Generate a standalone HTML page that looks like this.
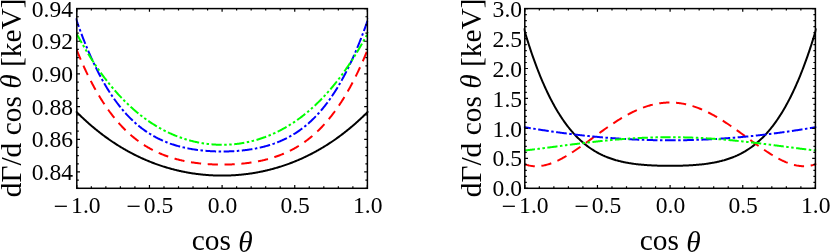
<!DOCTYPE html>
<html><head><meta charset="utf-8"><title>plot</title>
<style>
html,body{margin:0;padding:0;background:#fff;}
body{width:830px;height:252px;overflow:hidden;}
svg{display:block;will-change:transform;opacity:0.999;}
text{font-family:"Liberation Serif",serif;fill:#000;}
.t{font-size:23.6px;}
.a{font-size:29.4px;}
</style></head><body>
<svg width="830" height="252" viewBox="0 0 830 252">
<rect width="830" height="252" fill="#fff"/>

<clipPath id="c76"><rect x="75.60" y="8.60" width="293.00" height="179.70"/></clipPath>
<g clip-path="url(#c76)" fill="none" stroke-width="2">
<path d="M75.80 111.19 L76.53 111.93 L77.26 112.66 L77.99 113.39 L78.73 114.11 L79.46 114.82 L80.19 115.53 L80.92 116.24 L81.65 116.93 L82.38 117.63 L83.12 118.31 L83.85 119.00 L84.58 119.67 L85.31 120.35 L86.04 121.01 L86.77 121.67 L87.50 122.33 L88.24 122.98 L88.97 123.63 L89.70 124.27 L90.43 124.90 L91.16 125.53 L91.89 126.16 L92.62 126.78 L93.36 127.39 L94.09 128.00 L94.82 128.61 L95.55 129.21 L96.28 129.81 L97.01 130.40 L97.75 130.98 L98.48 131.56 L99.21 132.14 L99.94 132.71 L100.67 133.28 L101.40 133.84 L102.13 134.40 L102.87 134.95 L103.60 135.50 L104.33 136.04 L105.06 136.58 L105.79 137.12 L106.52 137.65 L107.25 138.17 L107.99 138.69 L108.72 139.21 L109.45 139.72 L110.18 140.23 L110.91 140.73 L111.64 141.23 L112.38 141.72 L113.11 142.21 L113.84 142.70 L114.57 143.18 L115.30 143.66 L116.03 144.13 L116.76 144.60 L117.50 145.06 L118.23 145.52 L118.96 145.98 L119.69 146.43 L120.42 146.88 L121.15 147.32 L121.88 147.76 L122.62 148.19 L123.35 148.63 L124.08 149.05 L124.81 149.48 L125.54 149.89 L126.27 150.31 L127.00 150.72 L127.74 151.13 L128.47 151.53 L129.20 151.93 L129.93 152.33 L130.66 152.72 L131.39 153.10 L132.13 153.49 L132.86 153.87 L133.59 154.24 L134.32 154.62 L135.05 154.98 L135.78 155.35 L136.51 155.71 L137.25 156.07 L137.98 156.42 L138.71 156.77 L139.44 157.12 L140.17 157.46 L140.90 157.80 L141.63 158.13 L142.37 158.47 L143.10 158.79 L143.83 159.12 L144.56 159.44 L145.29 159.76 L146.02 160.07 L146.76 160.38 L147.49 160.69 L148.22 160.99 L148.95 161.29 L149.68 161.59 L150.41 161.88 L151.14 162.17 L151.88 162.46 L152.61 162.74 L153.34 163.02 L154.07 163.29 L154.80 163.57 L155.53 163.84 L156.26 164.10 L157.00 164.36 L157.73 164.62 L158.46 164.88 L159.19 165.13 L159.92 165.38 L160.65 165.63 L161.39 165.87 L162.12 166.11 L162.85 166.35 L163.58 166.58 L164.31 166.81 L165.04 167.04 L165.77 167.26 L166.51 167.48 L167.24 167.70 L167.97 167.91 L168.70 168.12 L169.43 168.33 L170.16 168.54 L170.89 168.74 L171.63 168.94 L172.36 169.13 L173.09 169.32 L173.82 169.51 L174.55 169.70 L175.28 169.88 L176.02 170.06 L176.75 170.24 L177.48 170.42 L178.21 170.59 L178.94 170.75 L179.67 170.92 L180.40 171.08 L181.14 171.24 L181.87 171.40 L182.60 171.55 L183.33 171.70 L184.06 171.85 L184.79 171.99 L185.52 172.13 L186.26 172.27 L186.99 172.41 L187.72 172.54 L188.45 172.67 L189.18 172.80 L189.91 172.92 L190.65 173.04 L191.38 173.16 L192.11 173.28 L192.84 173.39 L193.57 173.50 L194.30 173.61 L195.03 173.71 L195.77 173.81 L196.50 173.91 L197.23 174.01 L197.96 174.10 L198.69 174.19 L199.42 174.28 L200.15 174.36 L200.89 174.44 L201.62 174.52 L202.35 174.60 L203.08 174.67 L203.81 174.74 L204.54 174.81 L205.28 174.87 L206.01 174.93 L206.74 174.99 L207.47 175.05 L208.20 175.10 L208.93 175.16 L209.66 175.20 L210.40 175.25 L211.13 175.29 L211.86 175.33 L212.59 175.37 L213.32 175.40 L214.05 175.43 L214.78 175.46 L215.52 175.49 L216.25 175.51 L216.98 175.53 L217.71 175.55 L218.44 175.57 L219.17 175.58 L219.91 175.59 L220.64 175.59 L221.37 175.60 L222.10 175.60 L222.83 175.60 L223.56 175.59 L224.29 175.59 L225.03 175.58 L225.76 175.57 L226.49 175.55 L227.22 175.53 L227.95 175.51 L228.68 175.49 L229.41 175.46 L230.15 175.43 L230.88 175.40 L231.61 175.37 L232.34 175.33 L233.07 175.29 L233.80 175.25 L234.54 175.20 L235.27 175.16 L236.00 175.10 L236.73 175.05 L237.46 174.99 L238.19 174.93 L238.92 174.87 L239.66 174.81 L240.39 174.74 L241.12 174.67 L241.85 174.60 L242.58 174.52 L243.31 174.44 L244.04 174.36 L244.78 174.28 L245.51 174.19 L246.24 174.10 L246.97 174.01 L247.70 173.91 L248.43 173.81 L249.17 173.71 L249.90 173.61 L250.63 173.50 L251.36 173.39 L252.09 173.28 L252.82 173.16 L253.55 173.04 L254.29 172.92 L255.02 172.80 L255.75 172.67 L256.48 172.54 L257.21 172.41 L257.94 172.27 L258.67 172.13 L259.41 171.99 L260.14 171.85 L260.87 171.70 L261.60 171.55 L262.33 171.40 L263.06 171.24 L263.80 171.08 L264.53 170.92 L265.26 170.75 L265.99 170.59 L266.72 170.42 L267.45 170.24 L268.18 170.06 L268.92 169.88 L269.65 169.70 L270.38 169.51 L271.11 169.32 L271.84 169.13 L272.57 168.94 L273.30 168.74 L274.04 168.54 L274.77 168.33 L275.50 168.12 L276.23 167.91 L276.96 167.70 L277.69 167.48 L278.43 167.26 L279.16 167.04 L279.89 166.81 L280.62 166.58 L281.35 166.35 L282.08 166.11 L282.81 165.87 L283.55 165.63 L284.28 165.38 L285.01 165.13 L285.74 164.88 L286.47 164.62 L287.20 164.36 L287.93 164.10 L288.67 163.84 L289.40 163.57 L290.13 163.29 L290.86 163.02 L291.59 162.74 L292.32 162.46 L293.06 162.17 L293.79 161.88 L294.52 161.59 L295.25 161.29 L295.98 160.99 L296.71 160.69 L297.44 160.38 L298.18 160.07 L298.91 159.76 L299.64 159.44 L300.37 159.12 L301.10 158.79 L301.83 158.47 L302.56 158.13 L303.30 157.80 L304.03 157.46 L304.76 157.12 L305.49 156.77 L306.22 156.42 L306.95 156.07 L307.69 155.71 L308.42 155.35 L309.15 154.98 L309.88 154.62 L310.61 154.24 L311.34 153.87 L312.07 153.49 L312.81 153.10 L313.54 152.72 L314.27 152.33 L315.00 151.93 L315.73 151.53 L316.46 151.13 L317.19 150.72 L317.93 150.31 L318.66 149.89 L319.39 149.48 L320.12 149.05 L320.85 148.63 L321.58 148.19 L322.32 147.76 L323.05 147.32 L323.78 146.88 L324.51 146.43 L325.24 145.98 L325.97 145.52 L326.70 145.06 L327.44 144.60 L328.17 144.13 L328.90 143.66 L329.63 143.18 L330.36 142.70 L331.09 142.21 L331.82 141.72 L332.56 141.23 L333.29 140.73 L334.02 140.23 L334.75 139.72 L335.48 139.21 L336.21 138.69 L336.95 138.17 L337.68 137.65 L338.41 137.12 L339.14 136.58 L339.87 136.04 L340.60 135.50 L341.33 134.95 L342.07 134.40 L342.80 133.84 L343.53 133.28 L344.26 132.71 L344.99 132.14 L345.72 131.56 L346.45 130.98 L347.19 130.40 L347.92 129.81 L348.65 129.21 L349.38 128.61 L350.11 128.00 L350.84 127.39 L351.58 126.78 L352.31 126.16 L353.04 125.53 L353.77 124.90 L354.50 124.27 L355.23 123.63 L355.96 122.98 L356.70 122.33 L357.43 121.67 L358.16 121.01 L358.89 120.35 L359.62 119.67 L360.35 119.00 L361.08 118.31 L361.82 117.63 L362.55 116.93 L363.28 116.24 L364.01 115.53 L364.74 114.82 L365.47 114.11 L366.21 113.39 L366.94 112.66 L367.67 111.93 L368.40 111.19" stroke="#000"/>
<path d="M75.80 47.71 L76.53 49.53 L77.26 51.34 L77.99 53.12 L78.73 54.89 L79.46 56.63 L80.19 58.35 L80.92 60.04 L81.65 61.72 L82.38 63.37 L83.12 65.01 L83.85 66.62 L84.58 68.22 L85.31 69.79 L86.04 71.34 L86.77 72.87 L87.50 74.39 L88.24 75.88 L88.97 77.35 L89.70 78.81 L90.43 80.24 L91.16 81.66 L91.89 83.06 L92.62 84.44 L93.36 85.80 L94.09 87.15 L94.82 88.47 L95.55 89.78 L96.28 91.07 L97.01 92.34 L97.75 93.60 L98.48 94.84 L99.21 96.06 L99.94 97.27 L100.67 98.46 L101.40 99.63 L102.13 100.78 L102.87 101.92 L103.60 103.05 L104.33 104.16 L105.06 105.25 L105.79 106.33 L106.52 107.39 L107.25 108.44 L107.99 109.47 L108.72 110.49 L109.45 111.49 L110.18 112.48 L110.91 113.46 L111.64 114.42 L112.38 115.36 L113.11 116.30 L113.84 117.22 L114.57 118.12 L115.30 119.01 L116.03 119.89 L116.76 120.76 L117.50 121.61 L118.23 122.45 L118.96 123.28 L119.69 124.09 L120.42 124.90 L121.15 125.69 L121.88 126.47 L122.62 127.23 L123.35 127.99 L124.08 128.73 L124.81 129.46 L125.54 130.18 L126.27 130.89 L127.00 131.59 L127.74 132.27 L128.47 132.95 L129.20 133.62 L129.93 134.27 L130.66 134.91 L131.39 135.55 L132.13 136.17 L132.86 136.78 L133.59 137.39 L134.32 137.98 L135.05 138.57 L135.78 139.14 L136.51 139.70 L137.25 140.26 L137.98 140.81 L138.71 141.34 L139.44 141.87 L140.17 142.39 L140.90 142.90 L141.63 143.40 L142.37 143.89 L143.10 144.38 L143.83 144.85 L144.56 145.32 L145.29 145.78 L146.02 146.23 L146.76 146.68 L147.49 147.11 L148.22 147.54 L148.95 147.96 L149.68 148.37 L150.41 148.78 L151.14 149.18 L151.88 149.57 L152.61 149.95 L153.34 150.33 L154.07 150.70 L154.80 151.06 L155.53 151.42 L156.26 151.77 L157.00 152.11 L157.73 152.45 L158.46 152.78 L159.19 153.10 L159.92 153.42 L160.65 153.73 L161.39 154.04 L162.12 154.34 L162.85 154.63 L163.58 154.92 L164.31 155.20 L165.04 155.48 L165.77 155.75 L166.51 156.01 L167.24 156.27 L167.97 156.53 L168.70 156.78 L169.43 157.02 L170.16 157.26 L170.89 157.50 L171.63 157.72 L172.36 157.95 L173.09 158.17 L173.82 158.38 L174.55 158.59 L175.28 158.80 L176.02 159.00 L176.75 159.20 L177.48 159.39 L178.21 159.58 L178.94 159.76 L179.67 159.94 L180.40 160.11 L181.14 160.28 L181.87 160.45 L182.60 160.61 L183.33 160.77 L184.06 160.93 L184.79 161.08 L185.52 161.23 L186.26 161.37 L186.99 161.51 L187.72 161.65 L188.45 161.78 L189.18 161.91 L189.91 162.03 L190.65 162.16 L191.38 162.27 L192.11 162.39 L192.84 162.50 L193.57 162.61 L194.30 162.72 L195.03 162.82 L195.77 162.92 L196.50 163.01 L197.23 163.11 L197.96 163.20 L198.69 163.28 L199.42 163.37 L200.15 163.45 L200.89 163.52 L201.62 163.60 L202.35 163.67 L203.08 163.74 L203.81 163.81 L204.54 163.87 L205.28 163.93 L206.01 163.99 L206.74 164.04 L207.47 164.10 L208.20 164.15 L208.93 164.19 L209.66 164.24 L210.40 164.28 L211.13 164.32 L211.86 164.35 L212.59 164.39 L213.32 164.42 L214.05 164.45 L214.78 164.48 L215.52 164.50 L216.25 164.52 L216.98 164.54 L217.71 164.56 L218.44 164.57 L219.17 164.58 L219.91 164.59 L220.64 164.60 L221.37 164.60 L222.10 164.60 L222.83 164.60 L223.56 164.60 L224.29 164.59 L225.03 164.58 L225.76 164.57 L226.49 164.56 L227.22 164.54 L227.95 164.52 L228.68 164.50 L229.41 164.48 L230.15 164.45 L230.88 164.42 L231.61 164.39 L232.34 164.35 L233.07 164.32 L233.80 164.28 L234.54 164.24 L235.27 164.19 L236.00 164.15 L236.73 164.10 L237.46 164.04 L238.19 163.99 L238.92 163.93 L239.66 163.87 L240.39 163.81 L241.12 163.74 L241.85 163.67 L242.58 163.60 L243.31 163.52 L244.04 163.45 L244.78 163.37 L245.51 163.28 L246.24 163.20 L246.97 163.11 L247.70 163.01 L248.43 162.92 L249.17 162.82 L249.90 162.72 L250.63 162.61 L251.36 162.50 L252.09 162.39 L252.82 162.27 L253.55 162.16 L254.29 162.03 L255.02 161.91 L255.75 161.78 L256.48 161.65 L257.21 161.51 L257.94 161.37 L258.67 161.23 L259.41 161.08 L260.14 160.93 L260.87 160.77 L261.60 160.61 L262.33 160.45 L263.06 160.28 L263.80 160.11 L264.53 159.94 L265.26 159.76 L265.99 159.58 L266.72 159.39 L267.45 159.20 L268.18 159.00 L268.92 158.80 L269.65 158.59 L270.38 158.38 L271.11 158.17 L271.84 157.95 L272.57 157.72 L273.30 157.50 L274.04 157.26 L274.77 157.02 L275.50 156.78 L276.23 156.53 L276.96 156.27 L277.69 156.01 L278.43 155.75 L279.16 155.48 L279.89 155.20 L280.62 154.92 L281.35 154.63 L282.08 154.34 L282.81 154.04 L283.55 153.73 L284.28 153.42 L285.01 153.10 L285.74 152.78 L286.47 152.45 L287.20 152.11 L287.93 151.77 L288.67 151.42 L289.40 151.06 L290.13 150.70 L290.86 150.33 L291.59 149.95 L292.32 149.57 L293.06 149.18 L293.79 148.78 L294.52 148.37 L295.25 147.96 L295.98 147.54 L296.71 147.11 L297.44 146.68 L298.18 146.23 L298.91 145.78 L299.64 145.32 L300.37 144.85 L301.10 144.38 L301.83 143.89 L302.56 143.40 L303.30 142.90 L304.03 142.39 L304.76 141.87 L305.49 141.34 L306.22 140.81 L306.95 140.26 L307.69 139.70 L308.42 139.14 L309.15 138.57 L309.88 137.98 L310.61 137.39 L311.34 136.78 L312.07 136.17 L312.81 135.55 L313.54 134.91 L314.27 134.27 L315.00 133.62 L315.73 132.95 L316.46 132.27 L317.19 131.59 L317.93 130.89 L318.66 130.18 L319.39 129.46 L320.12 128.73 L320.85 127.99 L321.58 127.23 L322.32 126.47 L323.05 125.69 L323.78 124.90 L324.51 124.09 L325.24 123.28 L325.97 122.45 L326.70 121.61 L327.44 120.76 L328.17 119.89 L328.90 119.01 L329.63 118.12 L330.36 117.22 L331.09 116.30 L331.82 115.36 L332.56 114.42 L333.29 113.46 L334.02 112.48 L334.75 111.49 L335.48 110.49 L336.21 109.47 L336.95 108.44 L337.68 107.39 L338.41 106.33 L339.14 105.25 L339.87 104.16 L340.60 103.05 L341.33 101.92 L342.07 100.78 L342.80 99.63 L343.53 98.46 L344.26 97.27 L344.99 96.06 L345.72 94.84 L346.45 93.60 L347.19 92.34 L347.92 91.07 L348.65 89.78 L349.38 88.47 L350.11 87.15 L350.84 85.80 L351.58 84.44 L352.31 83.06 L353.04 81.66 L353.77 80.24 L354.50 78.81 L355.23 77.35 L355.96 75.88 L356.70 74.39 L357.43 72.87 L358.16 71.34 L358.89 69.79 L359.62 68.22 L360.35 66.62 L361.08 65.01 L361.82 63.37 L362.55 61.72 L363.28 60.04 L364.01 58.35 L364.74 56.63 L365.47 54.89 L366.21 53.12 L366.94 51.34 L367.67 49.53 L368.40 47.71" stroke="#f00" stroke-dasharray="10.22 6.62" stroke-dashoffset="14.15"/>
<path d="M75.80 18.20 L76.53 20.33 L77.26 22.43 L77.99 24.50 L78.73 26.54 L79.46 28.56 L80.19 30.56 L80.92 32.53 L81.65 34.47 L82.38 36.39 L83.12 38.29 L83.85 40.16 L84.58 42.00 L85.31 43.83 L86.04 45.63 L86.77 47.40 L87.50 49.15 L88.24 50.88 L88.97 52.59 L89.70 54.27 L90.43 55.93 L91.16 57.57 L91.89 59.18 L92.62 60.78 L93.36 62.35 L94.09 63.90 L94.82 65.43 L95.55 66.94 L96.28 68.43 L97.01 69.90 L97.75 71.35 L98.48 72.78 L99.21 74.18 L99.94 75.57 L100.67 76.94 L101.40 78.29 L102.13 79.62 L102.87 80.93 L103.60 82.22 L104.33 83.50 L105.06 84.75 L105.79 85.99 L106.52 87.21 L107.25 88.41 L107.99 89.60 L108.72 90.77 L109.45 91.92 L110.18 93.05 L110.91 94.17 L111.64 95.27 L112.38 96.35 L113.11 97.42 L113.84 98.47 L114.57 99.50 L115.30 100.52 L116.03 101.53 L116.76 102.52 L117.50 103.49 L118.23 104.45 L118.96 105.39 L119.69 106.32 L120.42 107.24 L121.15 108.14 L121.88 109.02 L122.62 109.89 L123.35 110.75 L124.08 111.60 L124.81 112.43 L125.54 113.25 L126.27 114.05 L127.00 114.84 L127.74 115.62 L128.47 116.39 L129.20 117.14 L129.93 117.88 L130.66 118.61 L131.39 119.33 L132.13 120.03 L132.86 120.73 L133.59 121.41 L134.32 122.08 L135.05 122.74 L135.78 123.38 L136.51 124.02 L137.25 124.65 L137.98 125.26 L138.71 125.87 L139.44 126.46 L140.17 127.04 L140.90 127.62 L141.63 128.18 L142.37 128.73 L143.10 129.28 L143.83 129.81 L144.56 130.33 L145.29 130.85 L146.02 131.35 L146.76 131.85 L147.49 132.34 L148.22 132.81 L148.95 133.28 L149.68 133.74 L150.41 134.20 L151.14 134.64 L151.88 135.08 L152.61 135.50 L153.34 135.92 L154.07 136.33 L154.80 136.74 L155.53 137.13 L156.26 137.52 L157.00 137.90 L157.73 138.27 L158.46 138.64 L159.19 139.00 L159.92 139.35 L160.65 139.69 L161.39 140.03 L162.12 140.36 L162.85 140.68 L163.58 141.00 L164.31 141.31 L165.04 141.62 L165.77 141.92 L166.51 142.21 L167.24 142.49 L167.97 142.77 L168.70 143.05 L169.43 143.31 L170.16 143.58 L170.89 143.83 L171.63 144.08 L172.36 144.33 L173.09 144.57 L173.82 144.80 L174.55 145.03 L175.28 145.26 L176.02 145.48 L176.75 145.69 L177.48 145.90 L178.21 146.10 L178.94 146.30 L179.67 146.50 L180.40 146.69 L181.14 146.87 L181.87 147.05 L182.60 147.23 L183.33 147.40 L184.06 147.57 L184.79 147.73 L185.52 147.89 L186.26 148.05 L186.99 148.20 L187.72 148.34 L188.45 148.49 L189.18 148.62 L189.91 148.76 L190.65 148.89 L191.38 149.02 L192.11 149.14 L192.84 149.26 L193.57 149.38 L194.30 149.49 L195.03 149.60 L195.77 149.71 L196.50 149.81 L197.23 149.91 L197.96 150.01 L198.69 150.10 L199.42 150.19 L200.15 150.27 L200.89 150.36 L201.62 150.44 L202.35 150.51 L203.08 150.59 L203.81 150.66 L204.54 150.72 L205.28 150.79 L206.01 150.85 L206.74 150.91 L207.47 150.96 L208.20 151.02 L208.93 151.07 L209.66 151.11 L210.40 151.16 L211.13 151.20 L211.86 151.24 L212.59 151.28 L213.32 151.31 L214.05 151.34 L214.78 151.37 L215.52 151.39 L216.25 151.42 L216.98 151.44 L217.71 151.45 L218.44 151.47 L219.17 151.48 L219.91 151.49 L220.64 151.49 L221.37 151.50 L222.10 151.50 L222.83 151.50 L223.56 151.49 L224.29 151.49 L225.03 151.48 L225.76 151.47 L226.49 151.45 L227.22 151.44 L227.95 151.42 L228.68 151.39 L229.41 151.37 L230.15 151.34 L230.88 151.31 L231.61 151.28 L232.34 151.24 L233.07 151.20 L233.80 151.16 L234.54 151.11 L235.27 151.07 L236.00 151.02 L236.73 150.96 L237.46 150.91 L238.19 150.85 L238.92 150.79 L239.66 150.72 L240.39 150.66 L241.12 150.59 L241.85 150.51 L242.58 150.44 L243.31 150.36 L244.04 150.27 L244.78 150.19 L245.51 150.10 L246.24 150.01 L246.97 149.91 L247.70 149.81 L248.43 149.71 L249.17 149.60 L249.90 149.49 L250.63 149.38 L251.36 149.26 L252.09 149.14 L252.82 149.02 L253.55 148.89 L254.29 148.76 L255.02 148.62 L255.75 148.49 L256.48 148.34 L257.21 148.20 L257.94 148.05 L258.67 147.89 L259.41 147.73 L260.14 147.57 L260.87 147.40 L261.60 147.23 L262.33 147.05 L263.06 146.87 L263.80 146.69 L264.53 146.50 L265.26 146.30 L265.99 146.10 L266.72 145.90 L267.45 145.69 L268.18 145.48 L268.92 145.26 L269.65 145.03 L270.38 144.80 L271.11 144.57 L271.84 144.33 L272.57 144.08 L273.30 143.83 L274.04 143.58 L274.77 143.31 L275.50 143.05 L276.23 142.77 L276.96 142.49 L277.69 142.21 L278.43 141.92 L279.16 141.62 L279.89 141.31 L280.62 141.00 L281.35 140.68 L282.08 140.36 L282.81 140.03 L283.55 139.69 L284.28 139.35 L285.01 139.00 L285.74 138.64 L286.47 138.27 L287.20 137.90 L287.93 137.52 L288.67 137.13 L289.40 136.74 L290.13 136.33 L290.86 135.92 L291.59 135.50 L292.32 135.08 L293.06 134.64 L293.79 134.20 L294.52 133.74 L295.25 133.28 L295.98 132.81 L296.71 132.34 L297.44 131.85 L298.18 131.35 L298.91 130.85 L299.64 130.33 L300.37 129.81 L301.10 129.28 L301.83 128.73 L302.56 128.18 L303.30 127.62 L304.03 127.04 L304.76 126.46 L305.49 125.87 L306.22 125.26 L306.95 124.65 L307.69 124.02 L308.42 123.38 L309.15 122.74 L309.88 122.08 L310.61 121.41 L311.34 120.73 L312.07 120.03 L312.81 119.33 L313.54 118.61 L314.27 117.88 L315.00 117.14 L315.73 116.39 L316.46 115.62 L317.19 114.84 L317.93 114.05 L318.66 113.25 L319.39 112.43 L320.12 111.60 L320.85 110.75 L321.58 109.89 L322.32 109.02 L323.05 108.14 L323.78 107.24 L324.51 106.32 L325.24 105.39 L325.97 104.45 L326.70 103.49 L327.44 102.52 L328.17 101.53 L328.90 100.52 L329.63 99.50 L330.36 98.47 L331.09 97.42 L331.82 96.35 L332.56 95.27 L333.29 94.17 L334.02 93.05 L334.75 91.92 L335.48 90.77 L336.21 89.60 L336.95 88.41 L337.68 87.21 L338.41 85.99 L339.14 84.75 L339.87 83.50 L340.60 82.22 L341.33 80.93 L342.07 79.62 L342.80 78.29 L343.53 76.94 L344.26 75.57 L344.99 74.18 L345.72 72.78 L346.45 71.35 L347.19 69.90 L347.92 68.43 L348.65 66.94 L349.38 65.43 L350.11 63.90 L350.84 62.35 L351.58 60.78 L352.31 59.18 L353.04 57.57 L353.77 55.93 L354.50 54.27 L355.23 52.59 L355.96 50.88 L356.70 49.15 L357.43 47.40 L358.16 45.63 L358.89 43.83 L359.62 42.00 L360.35 40.16 L361.08 38.29 L361.82 36.39 L362.55 34.47 L363.28 32.53 L364.01 30.56 L364.74 28.56 L365.47 26.54 L366.21 24.50 L366.94 22.43 L367.67 20.33 L368.40 18.20" stroke="#00f" stroke-dasharray="10.7 2.5 2.5 2.5" stroke-dashoffset="1.58"/>
<path d="M75.80 32.13 L76.53 33.50 L77.26 34.86 L77.99 36.21 L78.73 37.55 L79.46 38.87 L80.19 40.19 L80.92 41.49 L81.65 42.78 L82.38 44.06 L83.12 45.33 L83.85 46.59 L84.58 47.83 L85.31 49.07 L86.04 50.29 L86.77 51.50 L87.50 52.71 L88.24 53.90 L88.97 55.08 L89.70 56.25 L90.43 57.41 L91.16 58.56 L91.89 59.70 L92.62 60.83 L93.36 61.95 L94.09 63.05 L94.82 64.15 L95.55 65.24 L96.28 66.32 L97.01 67.38 L97.75 68.44 L98.48 69.49 L99.21 70.53 L99.94 71.56 L100.67 72.58 L101.40 73.59 L102.13 74.59 L102.87 75.58 L103.60 76.56 L104.33 77.53 L105.06 78.49 L105.79 79.44 L106.52 80.39 L107.25 81.32 L107.99 82.25 L108.72 83.17 L109.45 84.07 L110.18 84.97 L110.91 85.86 L111.64 86.75 L112.38 87.62 L113.11 88.48 L113.84 89.34 L114.57 90.19 L115.30 91.02 L116.03 91.85 L116.76 92.68 L117.50 93.49 L118.23 94.30 L118.96 95.09 L119.69 95.88 L120.42 96.66 L121.15 97.44 L121.88 98.20 L122.62 98.96 L123.35 99.71 L124.08 100.45 L124.81 101.18 L125.54 101.91 L126.27 102.63 L127.00 103.34 L127.74 104.04 L128.47 104.74 L129.20 105.43 L129.93 106.11 L130.66 106.78 L131.39 107.45 L132.13 108.11 L132.86 108.76 L133.59 109.40 L134.32 110.04 L135.05 110.67 L135.78 111.29 L136.51 111.91 L137.25 112.52 L137.98 113.12 L138.71 113.72 L139.44 114.30 L140.17 114.89 L140.90 115.46 L141.63 116.03 L142.37 116.59 L143.10 117.15 L143.83 117.69 L144.56 118.24 L145.29 118.77 L146.02 119.30 L146.76 119.82 L147.49 120.34 L148.22 120.85 L148.95 121.35 L149.68 121.85 L150.41 122.34 L151.14 122.83 L151.88 123.31 L152.61 123.78 L153.34 124.24 L154.07 124.70 L154.80 125.16 L155.53 125.61 L156.26 126.05 L157.00 126.49 L157.73 126.92 L158.46 127.34 L159.19 127.76 L159.92 128.18 L160.65 128.58 L161.39 128.98 L162.12 129.38 L162.85 129.77 L163.58 130.16 L164.31 130.54 L165.04 130.91 L165.77 131.28 L166.51 131.64 L167.24 132.00 L167.97 132.35 L168.70 132.70 L169.43 133.04 L170.16 133.37 L170.89 133.70 L171.63 134.03 L172.36 134.35 L173.09 134.66 L173.82 134.97 L174.55 135.28 L175.28 135.58 L176.02 135.87 L176.75 136.16 L177.48 136.44 L178.21 136.72 L178.94 137.00 L179.67 137.26 L180.40 137.53 L181.14 137.79 L181.87 138.04 L182.60 138.29 L183.33 138.53 L184.06 138.77 L184.79 139.00 L185.52 139.23 L186.26 139.46 L186.99 139.68 L187.72 139.89 L188.45 140.10 L189.18 140.31 L189.91 140.51 L190.65 140.70 L191.38 140.89 L192.11 141.08 L192.84 141.26 L193.57 141.44 L194.30 141.61 L195.03 141.78 L195.77 141.94 L196.50 142.10 L197.23 142.25 L197.96 142.40 L198.69 142.54 L199.42 142.68 L200.15 142.82 L200.89 142.95 L201.62 143.08 L202.35 143.20 L203.08 143.31 L203.81 143.43 L204.54 143.53 L205.28 143.64 L206.01 143.74 L206.74 143.83 L207.47 143.92 L208.20 144.01 L208.93 144.09 L209.66 144.17 L210.40 144.24 L211.13 144.31 L211.86 144.37 L212.59 144.43 L213.32 144.48 L214.05 144.54 L214.78 144.58 L215.52 144.62 L216.25 144.66 L216.98 144.69 L217.71 144.72 L218.44 144.75 L219.17 144.76 L219.91 144.78 L220.64 144.79 L221.37 144.80 L222.10 144.80 L222.83 144.80 L223.56 144.79 L224.29 144.78 L225.03 144.76 L225.76 144.75 L226.49 144.72 L227.22 144.69 L227.95 144.66 L228.68 144.62 L229.41 144.58 L230.15 144.54 L230.88 144.48 L231.61 144.43 L232.34 144.37 L233.07 144.31 L233.80 144.24 L234.54 144.17 L235.27 144.09 L236.00 144.01 L236.73 143.92 L237.46 143.83 L238.19 143.74 L238.92 143.64 L239.66 143.53 L240.39 143.43 L241.12 143.31 L241.85 143.20 L242.58 143.08 L243.31 142.95 L244.04 142.82 L244.78 142.68 L245.51 142.54 L246.24 142.40 L246.97 142.25 L247.70 142.10 L248.43 141.94 L249.17 141.78 L249.90 141.61 L250.63 141.44 L251.36 141.26 L252.09 141.08 L252.82 140.89 L253.55 140.70 L254.29 140.51 L255.02 140.31 L255.75 140.10 L256.48 139.89 L257.21 139.68 L257.94 139.46 L258.67 139.23 L259.41 139.00 L260.14 138.77 L260.87 138.53 L261.60 138.29 L262.33 138.04 L263.06 137.79 L263.80 137.53 L264.53 137.26 L265.26 137.00 L265.99 136.72 L266.72 136.44 L267.45 136.16 L268.18 135.87 L268.92 135.58 L269.65 135.28 L270.38 134.97 L271.11 134.66 L271.84 134.35 L272.57 134.03 L273.30 133.70 L274.04 133.37 L274.77 133.04 L275.50 132.70 L276.23 132.35 L276.96 132.00 L277.69 131.64 L278.43 131.28 L279.16 130.91 L279.89 130.54 L280.62 130.16 L281.35 129.77 L282.08 129.38 L282.81 128.98 L283.55 128.58 L284.28 128.18 L285.01 127.76 L285.74 127.34 L286.47 126.92 L287.20 126.49 L287.93 126.05 L288.67 125.61 L289.40 125.16 L290.13 124.70 L290.86 124.24 L291.59 123.78 L292.32 123.31 L293.06 122.83 L293.79 122.34 L294.52 121.85 L295.25 121.35 L295.98 120.85 L296.71 120.34 L297.44 119.82 L298.18 119.30 L298.91 118.77 L299.64 118.24 L300.37 117.69 L301.10 117.15 L301.83 116.59 L302.56 116.03 L303.30 115.46 L304.03 114.89 L304.76 114.30 L305.49 113.72 L306.22 113.12 L306.95 112.52 L307.69 111.91 L308.42 111.29 L309.15 110.67 L309.88 110.04 L310.61 109.40 L311.34 108.76 L312.07 108.11 L312.81 107.45 L313.54 106.78 L314.27 106.11 L315.00 105.43 L315.73 104.74 L316.46 104.04 L317.19 103.34 L317.93 102.63 L318.66 101.91 L319.39 101.18 L320.12 100.45 L320.85 99.71 L321.58 98.96 L322.32 98.20 L323.05 97.44 L323.78 96.66 L324.51 95.88 L325.24 95.09 L325.97 94.30 L326.70 93.49 L327.44 92.68 L328.17 91.85 L328.90 91.02 L329.63 90.19 L330.36 89.34 L331.09 88.48 L331.82 87.62 L332.56 86.75 L333.29 85.86 L334.02 84.97 L334.75 84.07 L335.48 83.17 L336.21 82.25 L336.95 81.32 L337.68 80.39 L338.41 79.44 L339.14 78.49 L339.87 77.53 L340.60 76.56 L341.33 75.58 L342.07 74.59 L342.80 73.59 L343.53 72.58 L344.26 71.56 L344.99 70.53 L345.72 69.49 L346.45 68.44 L347.19 67.38 L347.92 66.32 L348.65 65.24 L349.38 64.15 L350.11 63.05 L350.84 61.95 L351.58 60.83 L352.31 59.70 L353.04 58.56 L353.77 57.41 L354.50 56.25 L355.23 55.08 L355.96 53.90 L356.70 52.71 L357.43 51.50 L358.16 50.29 L358.89 49.07 L359.62 47.83 L360.35 46.59 L361.08 45.33 L361.82 44.06 L362.55 42.78 L363.28 41.49 L364.01 40.19 L364.74 38.87 L365.47 37.55 L366.21 36.21 L366.94 34.86 L367.67 33.50 L368.40 32.13" stroke="#0f0" stroke-dasharray="10.22 2.5 2.5 2.5 2.5 2.5" stroke-dashoffset="20.60"/>
</g>
<path d="M76.80 188.30 v-2.00 M76.80 8.60 v2.00 M91.33 188.30 v-2.00 M91.33 8.60 v2.00 M105.86 188.30 v-2.00 M105.86 8.60 v2.00 M120.39 188.30 v-2.00 M120.39 8.60 v2.00 M134.92 188.30 v-2.00 M134.92 8.60 v2.00 M149.45 188.30 v-2.00 M149.45 8.60 v2.00 M163.98 188.30 v-2.00 M163.98 8.60 v2.00 M178.51 188.30 v-2.00 M178.51 8.60 v2.00 M193.04 188.30 v-2.00 M193.04 8.60 v2.00 M207.57 188.30 v-2.00 M207.57 8.60 v2.00 M222.10 188.30 v-2.00 M222.10 8.60 v2.00 M236.63 188.30 v-2.00 M236.63 8.60 v2.00 M251.16 188.30 v-2.00 M251.16 8.60 v2.00 M265.69 188.30 v-2.00 M265.69 8.60 v2.00 M280.22 188.30 v-2.00 M280.22 8.60 v2.00 M294.75 188.30 v-2.00 M294.75 8.60 v2.00 M309.28 188.30 v-2.00 M309.28 8.60 v2.00 M323.81 188.30 v-2.00 M323.81 8.60 v2.00 M338.34 188.30 v-2.00 M338.34 8.60 v2.00 M352.87 188.30 v-2.00 M352.87 8.60 v2.00 M367.40 188.30 v-2.00 M367.40 8.60 v2.00 M76.80 188.30 v-3.20 M76.80 8.60 v3.20 M149.45 188.30 v-3.20 M149.45 8.60 v3.20 M222.10 188.30 v-3.20 M222.10 8.60 v3.20 M294.75 188.30 v-3.20 M294.75 8.60 v3.20 M367.40 188.30 v-3.20 M367.40 8.60 v3.20 M76.80 188.30 h2.00 M367.40 188.30 h-2.00 M76.80 180.13 h2.00 M367.40 180.13 h-2.00 M76.80 171.96 h2.00 M367.40 171.96 h-2.00 M76.80 163.80 h2.00 M367.40 163.80 h-2.00 M76.80 155.63 h2.00 M367.40 155.63 h-2.00 M76.80 147.46 h2.00 M367.40 147.46 h-2.00 M76.80 139.29 h2.00 M367.40 139.29 h-2.00 M76.80 131.12 h2.00 M367.40 131.12 h-2.00 M76.80 122.95 h2.00 M367.40 122.95 h-2.00 M76.80 114.79 h2.00 M367.40 114.79 h-2.00 M76.80 106.62 h2.00 M367.40 106.62 h-2.00 M76.80 98.45 h2.00 M367.40 98.45 h-2.00 M76.80 90.28 h2.00 M367.40 90.28 h-2.00 M76.80 82.11 h2.00 M367.40 82.11 h-2.00 M76.80 73.95 h2.00 M367.40 73.95 h-2.00 M76.80 65.78 h2.00 M367.40 65.78 h-2.00 M76.80 57.61 h2.00 M367.40 57.61 h-2.00 M76.80 49.44 h2.00 M367.40 49.44 h-2.00 M76.80 41.27 h2.00 M367.40 41.27 h-2.00 M76.80 33.10 h2.00 M367.40 33.10 h-2.00 M76.80 24.94 h2.00 M367.40 24.94 h-2.00 M76.80 16.77 h2.00 M367.40 16.77 h-2.00 M76.80 8.60 h2.00 M367.40 8.60 h-2.00 M76.80 171.96 h3.20 M367.40 171.96 h-3.20 M76.80 139.29 h3.20 M367.40 139.29 h-3.20 M76.80 106.62 h3.20 M367.40 106.62 h-3.20 M76.80 73.95 h3.20 M367.40 73.95 h-3.20 M76.80 41.27 h3.20 M367.40 41.27 h-3.20 M76.80 8.60 h3.20 M367.40 8.60 h-3.20" stroke="#000" stroke-width="1.2" fill="none"/>
<rect x="76.80" y="8.60" width="290.60" height="179.70" fill="none" stroke="#000" stroke-width="1.5"/>
<text class="t" transform="translate(77.20 213.45) scale(1 1.015)" text-anchor="middle"><tspan font-size="25.96" dy="1.1" letter-spacing="2.7">−</tspan><tspan dy="-1.1">1.0</tspan></text>
<text class="t" transform="translate(149.85 213.45) scale(1 1.015)" text-anchor="middle"><tspan font-size="25.96" dy="1.1" letter-spacing="2.7">−</tspan><tspan dy="-1.1">0.5</tspan></text>
<text class="t" transform="translate(222.50 213.45) scale(1 1.015)" text-anchor="middle">0.0</text>
<text class="t" transform="translate(295.15 213.45) scale(1 1.015)" text-anchor="middle">0.5</text>
<text class="t" transform="translate(367.80 213.45) scale(1 1.015)" text-anchor="middle">1.0</text>
<text class="t" transform="translate(73.00 180.06) scale(1 1.015)" text-anchor="end">0.84</text>
<text class="t" transform="translate(73.00 147.39) scale(1 1.015)" text-anchor="end">0.86</text>
<text class="t" transform="translate(73.00 114.72) scale(1 1.015)" text-anchor="end">0.88</text>
<text class="t" transform="translate(73.00 82.05) scale(1 1.015)" text-anchor="end">0.90</text>
<text class="t" transform="translate(73.00 49.37) scale(1 1.015)" text-anchor="end">0.92</text>
<text class="t" transform="translate(73.00 16.70) scale(1 1.015)" text-anchor="end">0.94</text>
<text class="a" transform="translate(222.30 249.8) scale(1 1.020)" text-anchor="middle">cos <tspan font-style="italic" dy="2.1">θ</tspan></text>
<text class="a" transform="translate(21.30 97.85) rotate(-90) scale(1 1.020)" text-anchor="middle">dΓ/d cos <tspan font-style="italic">θ</tspan> [keV]</text>
<clipPath id="c524"><rect x="523.60" y="8.60" width="293.00" height="179.70"/></clipPath>
<g clip-path="url(#c524)" fill="none" stroke-width="2">
<path d="M523.80 28.35 L524.53 30.82 L525.26 33.26 L525.99 35.66 L526.73 38.03 L527.46 40.37 L528.19 42.67 L528.92 44.94 L529.65 47.18 L530.38 49.38 L531.12 51.56 L531.85 53.70 L532.58 55.81 L533.31 57.89 L534.04 59.94 L534.77 61.96 L535.50 63.95 L536.24 65.91 L536.97 67.84 L537.70 69.74 L538.43 71.61 L539.16 73.46 L539.89 75.28 L540.62 77.06 L541.36 78.83 L542.09 80.56 L542.82 82.27 L543.55 83.95 L544.28 85.60 L545.01 87.23 L545.75 88.83 L546.48 90.41 L547.21 91.96 L547.94 93.49 L548.67 94.99 L549.40 96.47 L550.13 97.93 L550.87 99.36 L551.60 100.76 L552.33 102.15 L553.06 103.51 L553.79 104.84 L554.52 106.16 L555.25 107.45 L555.99 108.73 L556.72 109.98 L557.45 111.20 L558.18 112.41 L558.91 113.60 L559.64 114.76 L560.38 115.91 L561.11 117.04 L561.84 118.14 L562.57 119.23 L563.30 120.29 L564.03 121.34 L564.76 122.37 L565.50 123.38 L566.23 124.37 L566.96 125.35 L567.69 126.30 L568.42 127.24 L569.15 128.16 L569.88 129.06 L570.62 129.95 L571.35 130.82 L572.08 131.67 L572.81 132.51 L573.54 133.33 L574.27 134.13 L575.00 134.92 L575.74 135.70 L576.47 136.46 L577.20 137.20 L577.93 137.93 L578.66 138.64 L579.39 139.34 L580.13 140.03 L580.86 140.70 L581.59 141.36 L582.32 142.00 L583.05 142.63 L583.78 143.25 L584.51 143.86 L585.25 144.45 L585.98 145.03 L586.71 145.60 L587.44 146.15 L588.17 146.70 L588.90 147.23 L589.63 147.75 L590.37 148.26 L591.10 148.75 L591.83 149.24 L592.56 149.71 L593.29 150.18 L594.02 150.63 L594.76 151.08 L595.49 151.51 L596.22 151.93 L596.95 152.35 L597.68 152.75 L598.41 153.15 L599.14 153.53 L599.88 153.91 L600.61 154.28 L601.34 154.63 L602.07 154.98 L602.80 155.33 L603.53 155.66 L604.26 155.98 L605.00 156.30 L605.73 156.61 L606.46 156.91 L607.19 157.20 L607.92 157.49 L608.65 157.77 L609.39 158.04 L610.12 158.30 L610.85 158.56 L611.58 158.81 L612.31 159.05 L613.04 159.29 L613.77 159.52 L614.51 159.74 L615.24 159.96 L615.97 160.18 L616.70 160.38 L617.43 160.58 L618.16 160.78 L618.89 160.97 L619.63 161.15 L620.36 161.33 L621.09 161.50 L621.82 161.67 L622.55 161.84 L623.28 162.00 L624.02 162.15 L624.75 162.30 L625.48 162.44 L626.21 162.59 L626.94 162.72 L627.67 162.85 L628.40 162.98 L629.14 163.11 L629.87 163.23 L630.60 163.34 L631.33 163.45 L632.06 163.56 L632.79 163.67 L633.52 163.77 L634.26 163.87 L634.99 163.96 L635.72 164.06 L636.45 164.14 L637.18 164.23 L637.91 164.31 L638.65 164.39 L639.38 164.47 L640.11 164.54 L640.84 164.61 L641.57 164.68 L642.30 164.75 L643.03 164.81 L643.77 164.87 L644.50 164.93 L645.23 164.99 L645.96 165.04 L646.69 165.10 L647.42 165.15 L648.15 165.19 L648.89 165.24 L649.62 165.28 L650.35 165.32 L651.08 165.36 L651.81 165.40 L652.54 165.44 L653.28 165.47 L654.01 165.51 L654.74 165.54 L655.47 165.57 L656.20 165.59 L656.93 165.62 L657.66 165.64 L658.40 165.67 L659.13 165.69 L659.86 165.71 L660.59 165.73 L661.32 165.74 L662.05 165.76 L662.78 165.77 L663.52 165.78 L664.25 165.80 L664.98 165.81 L665.71 165.81 L666.44 165.82 L667.17 165.83 L667.91 165.83 L668.64 165.83 L669.37 165.84 L670.10 165.84 L670.83 165.84 L671.56 165.83 L672.29 165.83 L673.03 165.83 L673.76 165.82 L674.49 165.81 L675.22 165.81 L675.95 165.80 L676.68 165.78 L677.41 165.77 L678.15 165.76 L678.88 165.74 L679.61 165.73 L680.34 165.71 L681.07 165.69 L681.80 165.67 L682.54 165.64 L683.27 165.62 L684.00 165.59 L684.73 165.57 L685.46 165.54 L686.19 165.51 L686.92 165.47 L687.66 165.44 L688.39 165.40 L689.12 165.36 L689.85 165.32 L690.58 165.28 L691.31 165.24 L692.04 165.19 L692.78 165.15 L693.51 165.10 L694.24 165.04 L694.97 164.99 L695.70 164.93 L696.43 164.87 L697.17 164.81 L697.90 164.75 L698.63 164.68 L699.36 164.61 L700.09 164.54 L700.82 164.47 L701.55 164.39 L702.29 164.31 L703.02 164.23 L703.75 164.14 L704.48 164.06 L705.21 163.96 L705.94 163.87 L706.67 163.77 L707.41 163.67 L708.14 163.56 L708.87 163.45 L709.60 163.34 L710.33 163.23 L711.06 163.11 L711.80 162.98 L712.53 162.85 L713.26 162.72 L713.99 162.59 L714.72 162.44 L715.45 162.30 L716.18 162.15 L716.92 162.00 L717.65 161.84 L718.38 161.67 L719.11 161.50 L719.84 161.33 L720.57 161.15 L721.30 160.97 L722.04 160.78 L722.77 160.58 L723.50 160.38 L724.23 160.18 L724.96 159.96 L725.69 159.74 L726.43 159.52 L727.16 159.29 L727.89 159.05 L728.62 158.81 L729.35 158.56 L730.08 158.30 L730.81 158.04 L731.55 157.77 L732.28 157.49 L733.01 157.20 L733.74 156.91 L734.47 156.61 L735.20 156.30 L735.93 155.98 L736.67 155.66 L737.40 155.33 L738.13 154.98 L738.86 154.63 L739.59 154.28 L740.32 153.91 L741.06 153.53 L741.79 153.15 L742.52 152.75 L743.25 152.35 L743.98 151.93 L744.71 151.51 L745.44 151.08 L746.18 150.63 L746.91 150.18 L747.64 149.71 L748.37 149.24 L749.10 148.75 L749.83 148.26 L750.56 147.75 L751.30 147.23 L752.03 146.70 L752.76 146.15 L753.49 145.60 L754.22 145.03 L754.95 144.45 L755.69 143.86 L756.42 143.25 L757.15 142.63 L757.88 142.00 L758.61 141.36 L759.34 140.70 L760.07 140.03 L760.81 139.34 L761.54 138.64 L762.27 137.93 L763.00 137.20 L763.73 136.46 L764.46 135.70 L765.19 134.92 L765.93 134.13 L766.66 133.33 L767.39 132.51 L768.12 131.67 L768.85 130.82 L769.58 129.95 L770.32 129.06 L771.05 128.16 L771.78 127.24 L772.51 126.30 L773.24 125.35 L773.97 124.37 L774.70 123.38 L775.44 122.37 L776.17 121.34 L776.90 120.29 L777.63 119.23 L778.36 118.14 L779.09 117.04 L779.82 115.91 L780.56 114.76 L781.29 113.60 L782.02 112.41 L782.75 111.20 L783.48 109.98 L784.21 108.73 L784.95 107.45 L785.68 106.16 L786.41 104.84 L787.14 103.51 L787.87 102.15 L788.60 100.76 L789.33 99.36 L790.07 97.93 L790.80 96.47 L791.53 94.99 L792.26 93.49 L792.99 91.96 L793.72 90.41 L794.45 88.83 L795.19 87.23 L795.92 85.60 L796.65 83.95 L797.38 82.27 L798.11 80.56 L798.84 78.83 L799.58 77.06 L800.31 75.28 L801.04 73.46 L801.77 71.61 L802.50 69.74 L803.23 67.84 L803.96 65.91 L804.70 63.95 L805.43 61.96 L806.16 59.94 L806.89 57.89 L807.62 55.81 L808.35 53.70 L809.08 51.56 L809.82 49.38 L810.55 47.18 L811.28 44.94 L812.01 42.67 L812.74 40.37 L813.47 38.03 L814.21 35.66 L814.94 33.26 L815.67 30.82 L816.40 28.35" stroke="#000"/>
<path d="M523.80 163.90 L524.53 164.18 L525.26 164.44 L525.99 164.69 L526.73 164.91 L527.46 165.12 L528.19 165.30 L528.92 165.47 L529.65 165.62 L530.38 165.76 L531.12 165.87 L531.85 165.97 L532.58 166.06 L533.31 166.13 L534.04 166.18 L534.77 166.21 L535.50 166.23 L536.24 166.24 L536.97 166.22 L537.70 166.20 L538.43 166.16 L539.16 166.10 L539.89 166.03 L540.62 165.95 L541.36 165.85 L542.09 165.74 L542.82 165.62 L543.55 165.49 L544.28 165.34 L545.01 165.17 L545.75 165.00 L546.48 164.82 L547.21 164.62 L547.94 164.41 L548.67 164.19 L549.40 163.96 L550.13 163.72 L550.87 163.46 L551.60 163.20 L552.33 162.93 L553.06 162.64 L553.79 162.35 L554.52 162.05 L555.25 161.73 L555.99 161.41 L556.72 161.08 L557.45 160.74 L558.18 160.40 L558.91 160.04 L559.64 159.68 L560.38 159.31 L561.11 158.93 L561.84 158.54 L562.57 158.14 L563.30 157.74 L564.03 157.34 L564.76 156.92 L565.50 156.50 L566.23 156.07 L566.96 155.64 L567.69 155.20 L568.42 154.75 L569.15 154.30 L569.88 153.85 L570.62 153.39 L571.35 152.92 L572.08 152.45 L572.81 151.97 L573.54 151.49 L574.27 151.01 L575.00 150.52 L575.74 150.03 L576.47 149.53 L577.20 149.04 L577.93 148.53 L578.66 148.03 L579.39 147.52 L580.13 147.01 L580.86 146.49 L581.59 145.98 L582.32 145.46 L583.05 144.94 L583.78 144.41 L584.51 143.89 L585.25 143.36 L585.98 142.83 L586.71 142.30 L587.44 141.77 L588.17 141.24 L588.90 140.71 L589.63 140.17 L590.37 139.64 L591.10 139.10 L591.83 138.57 L592.56 138.03 L593.29 137.50 L594.02 136.96 L594.76 136.43 L595.49 135.89 L596.22 135.36 L596.95 134.83 L597.68 134.29 L598.41 133.76 L599.14 133.23 L599.88 132.70 L600.61 132.17 L601.34 131.65 L602.07 131.12 L602.80 130.60 L603.53 130.08 L604.26 129.56 L605.00 129.04 L605.73 128.53 L606.46 128.01 L607.19 127.50 L607.92 126.99 L608.65 126.49 L609.39 125.99 L610.12 125.49 L610.85 124.99 L611.58 124.50 L612.31 124.01 L613.04 123.52 L613.77 123.04 L614.51 122.56 L615.24 122.08 L615.97 121.61 L616.70 121.14 L617.43 120.68 L618.16 120.22 L618.89 119.76 L619.63 119.31 L620.36 118.86 L621.09 118.42 L621.82 117.98 L622.55 117.55 L623.28 117.12 L624.02 116.70 L624.75 116.28 L625.48 115.86 L626.21 115.45 L626.94 115.05 L627.67 114.65 L628.40 114.26 L629.14 113.87 L629.87 113.49 L630.60 113.11 L631.33 112.74 L632.06 112.37 L632.79 112.01 L633.52 111.66 L634.26 111.31 L634.99 110.97 L635.72 110.63 L636.45 110.30 L637.18 109.98 L637.91 109.66 L638.65 109.35 L639.38 109.04 L640.11 108.74 L640.84 108.45 L641.57 108.17 L642.30 107.89 L643.03 107.61 L643.77 107.35 L644.50 107.09 L645.23 106.84 L645.96 106.59 L646.69 106.35 L647.42 106.12 L648.15 105.89 L648.89 105.68 L649.62 105.46 L650.35 105.26 L651.08 105.06 L651.81 104.87 L652.54 104.69 L653.28 104.52 L654.01 104.35 L654.74 104.19 L655.47 104.03 L656.20 103.89 L656.93 103.75 L657.66 103.62 L658.40 103.49 L659.13 103.37 L659.86 103.26 L660.59 103.16 L661.32 103.07 L662.05 102.98 L662.78 102.90 L663.52 102.83 L664.25 102.77 L664.98 102.71 L665.71 102.66 L666.44 102.62 L667.17 102.58 L667.91 102.56 L668.64 102.54 L669.37 102.53 L670.10 102.52 L670.83 102.53 L671.56 102.54 L672.29 102.56 L673.03 102.58 L673.76 102.62 L674.49 102.66 L675.22 102.71 L675.95 102.77 L676.68 102.83 L677.41 102.90 L678.15 102.98 L678.88 103.07 L679.61 103.16 L680.34 103.26 L681.07 103.37 L681.80 103.49 L682.54 103.62 L683.27 103.75 L684.00 103.89 L684.73 104.03 L685.46 104.19 L686.19 104.35 L686.92 104.52 L687.66 104.69 L688.39 104.87 L689.12 105.06 L689.85 105.26 L690.58 105.46 L691.31 105.68 L692.04 105.89 L692.78 106.12 L693.51 106.35 L694.24 106.59 L694.97 106.84 L695.70 107.09 L696.43 107.35 L697.17 107.61 L697.90 107.89 L698.63 108.17 L699.36 108.45 L700.09 108.74 L700.82 109.04 L701.55 109.35 L702.29 109.66 L703.02 109.98 L703.75 110.30 L704.48 110.63 L705.21 110.97 L705.94 111.31 L706.67 111.66 L707.41 112.01 L708.14 112.37 L708.87 112.74 L709.60 113.11 L710.33 113.49 L711.06 113.87 L711.80 114.26 L712.53 114.65 L713.26 115.05 L713.99 115.45 L714.72 115.86 L715.45 116.28 L716.18 116.70 L716.92 117.12 L717.65 117.55 L718.38 117.98 L719.11 118.42 L719.84 118.86 L720.57 119.31 L721.30 119.76 L722.04 120.22 L722.77 120.68 L723.50 121.14 L724.23 121.61 L724.96 122.08 L725.69 122.56 L726.43 123.04 L727.16 123.52 L727.89 124.01 L728.62 124.50 L729.35 124.99 L730.08 125.49 L730.81 125.99 L731.55 126.49 L732.28 126.99 L733.01 127.50 L733.74 128.01 L734.47 128.53 L735.20 129.04 L735.93 129.56 L736.67 130.08 L737.40 130.60 L738.13 131.12 L738.86 131.65 L739.59 132.17 L740.32 132.70 L741.06 133.23 L741.79 133.76 L742.52 134.29 L743.25 134.83 L743.98 135.36 L744.71 135.89 L745.44 136.43 L746.18 136.96 L746.91 137.50 L747.64 138.03 L748.37 138.57 L749.10 139.10 L749.83 139.64 L750.56 140.17 L751.30 140.71 L752.03 141.24 L752.76 141.77 L753.49 142.30 L754.22 142.83 L754.95 143.36 L755.69 143.89 L756.42 144.41 L757.15 144.94 L757.88 145.46 L758.61 145.98 L759.34 146.49 L760.07 147.01 L760.81 147.52 L761.54 148.03 L762.27 148.53 L763.00 149.04 L763.73 149.53 L764.46 150.03 L765.19 150.52 L765.93 151.01 L766.66 151.49 L767.39 151.97 L768.12 152.45 L768.85 152.92 L769.58 153.39 L770.32 153.85 L771.05 154.30 L771.78 154.75 L772.51 155.20 L773.24 155.64 L773.97 156.07 L774.70 156.50 L775.44 156.92 L776.17 157.34 L776.90 157.74 L777.63 158.14 L778.36 158.54 L779.09 158.93 L779.82 159.31 L780.56 159.68 L781.29 160.04 L782.02 160.40 L782.75 160.74 L783.48 161.08 L784.21 161.41 L784.95 161.73 L785.68 162.05 L786.41 162.35 L787.14 162.64 L787.87 162.93 L788.60 163.20 L789.33 163.46 L790.07 163.72 L790.80 163.96 L791.53 164.19 L792.26 164.41 L792.99 164.62 L793.72 164.82 L794.45 165.00 L795.19 165.17 L795.92 165.34 L796.65 165.49 L797.38 165.62 L798.11 165.74 L798.84 165.85 L799.58 165.95 L800.31 166.03 L801.04 166.10 L801.77 166.16 L802.50 166.20 L803.23 166.22 L803.96 166.24 L804.70 166.23 L805.43 166.21 L806.16 166.18 L806.89 166.13 L807.62 166.06 L808.35 165.97 L809.08 165.87 L809.82 165.76 L810.55 165.62 L811.28 165.47 L812.01 165.30 L812.74 165.12 L813.47 164.91 L814.21 164.69 L814.94 164.44 L815.67 164.18 L816.40 163.90" stroke="#f00" stroke-dasharray="10.22 6.62" stroke-dashoffset="15.77"/>
<path d="M523.80 127.03 L524.53 127.16 L525.26 127.28 L525.99 127.41 L526.73 127.53 L527.46 127.65 L528.19 127.78 L528.92 127.90 L529.65 128.02 L530.38 128.14 L531.12 128.27 L531.85 128.39 L532.58 128.51 L533.31 128.63 L534.04 128.75 L534.77 128.87 L535.50 128.98 L536.24 129.10 L536.97 129.22 L537.70 129.33 L538.43 129.45 L539.16 129.57 L539.89 129.68 L540.62 129.80 L541.36 129.91 L542.09 130.02 L542.82 130.14 L543.55 130.25 L544.28 130.36 L545.01 130.47 L545.75 130.58 L546.48 130.69 L547.21 130.80 L547.94 130.91 L548.67 131.02 L549.40 131.13 L550.13 131.23 L550.87 131.34 L551.60 131.45 L552.33 131.55 L553.06 131.66 L553.79 131.76 L554.52 131.87 L555.25 131.97 L555.99 132.07 L556.72 132.18 L557.45 132.28 L558.18 132.38 L558.91 132.48 L559.64 132.58 L560.38 132.68 L561.11 132.78 L561.84 132.87 L562.57 132.97 L563.30 133.07 L564.03 133.17 L564.76 133.26 L565.50 133.36 L566.23 133.45 L566.96 133.55 L567.69 133.64 L568.42 133.73 L569.15 133.82 L569.88 133.92 L570.62 134.01 L571.35 134.10 L572.08 134.19 L572.81 134.28 L573.54 134.36 L574.27 134.45 L575.00 134.54 L575.74 134.63 L576.47 134.71 L577.20 134.80 L577.93 134.88 L578.66 134.97 L579.39 135.05 L580.13 135.13 L580.86 135.22 L581.59 135.30 L582.32 135.38 L583.05 135.46 L583.78 135.54 L584.51 135.62 L585.25 135.70 L585.98 135.78 L586.71 135.85 L587.44 135.93 L588.17 136.01 L588.90 136.08 L589.63 136.16 L590.37 136.23 L591.10 136.30 L591.83 136.38 L592.56 136.45 L593.29 136.52 L594.02 136.59 L594.76 136.66 L595.49 136.73 L596.22 136.80 L596.95 136.87 L597.68 136.94 L598.41 137.01 L599.14 137.07 L599.88 137.14 L600.61 137.20 L601.34 137.27 L602.07 137.33 L602.80 137.39 L603.53 137.46 L604.26 137.52 L605.00 137.58 L605.73 137.64 L606.46 137.70 L607.19 137.76 L607.92 137.82 L608.65 137.88 L609.39 137.93 L610.12 137.99 L610.85 138.05 L611.58 138.10 L612.31 138.16 L613.04 138.21 L613.77 138.26 L614.51 138.32 L615.24 138.37 L615.97 138.42 L616.70 138.47 L617.43 138.52 L618.16 138.57 L618.89 138.62 L619.63 138.67 L620.36 138.71 L621.09 138.76 L621.82 138.81 L622.55 138.85 L623.28 138.90 L624.02 138.94 L624.75 138.98 L625.48 139.03 L626.21 139.07 L626.94 139.11 L627.67 139.15 L628.40 139.19 L629.14 139.23 L629.87 139.27 L630.60 139.31 L631.33 139.34 L632.06 139.38 L632.79 139.41 L633.52 139.45 L634.26 139.48 L634.99 139.52 L635.72 139.55 L636.45 139.58 L637.18 139.61 L637.91 139.65 L638.65 139.68 L639.38 139.71 L640.11 139.73 L640.84 139.76 L641.57 139.79 L642.30 139.82 L643.03 139.84 L643.77 139.87 L644.50 139.89 L645.23 139.92 L645.96 139.94 L646.69 139.96 L647.42 139.98 L648.15 140.01 L648.89 140.03 L649.62 140.05 L650.35 140.07 L651.08 140.08 L651.81 140.10 L652.54 140.12 L653.28 140.14 L654.01 140.15 L654.74 140.17 L655.47 140.18 L656.20 140.19 L656.93 140.21 L657.66 140.22 L658.40 140.23 L659.13 140.24 L659.86 140.25 L660.59 140.26 L661.32 140.27 L662.05 140.28 L662.78 140.29 L663.52 140.29 L664.25 140.30 L664.98 140.30 L665.71 140.31 L666.44 140.31 L667.17 140.31 L667.91 140.32 L668.64 140.32 L669.37 140.32 L670.10 140.32 L670.83 140.32 L671.56 140.32 L672.29 140.32 L673.03 140.31 L673.76 140.31 L674.49 140.31 L675.22 140.30 L675.95 140.30 L676.68 140.29 L677.41 140.29 L678.15 140.28 L678.88 140.27 L679.61 140.26 L680.34 140.25 L681.07 140.24 L681.80 140.23 L682.54 140.22 L683.27 140.21 L684.00 140.19 L684.73 140.18 L685.46 140.17 L686.19 140.15 L686.92 140.14 L687.66 140.12 L688.39 140.10 L689.12 140.08 L689.85 140.07 L690.58 140.05 L691.31 140.03 L692.04 140.01 L692.78 139.98 L693.51 139.96 L694.24 139.94 L694.97 139.92 L695.70 139.89 L696.43 139.87 L697.17 139.84 L697.90 139.82 L698.63 139.79 L699.36 139.76 L700.09 139.73 L700.82 139.71 L701.55 139.68 L702.29 139.65 L703.02 139.61 L703.75 139.58 L704.48 139.55 L705.21 139.52 L705.94 139.48 L706.67 139.45 L707.41 139.41 L708.14 139.38 L708.87 139.34 L709.60 139.31 L710.33 139.27 L711.06 139.23 L711.80 139.19 L712.53 139.15 L713.26 139.11 L713.99 139.07 L714.72 139.03 L715.45 138.98 L716.18 138.94 L716.92 138.90 L717.65 138.85 L718.38 138.81 L719.11 138.76 L719.84 138.71 L720.57 138.67 L721.30 138.62 L722.04 138.57 L722.77 138.52 L723.50 138.47 L724.23 138.42 L724.96 138.37 L725.69 138.32 L726.43 138.26 L727.16 138.21 L727.89 138.16 L728.62 138.10 L729.35 138.05 L730.08 137.99 L730.81 137.93 L731.55 137.88 L732.28 137.82 L733.01 137.76 L733.74 137.70 L734.47 137.64 L735.20 137.58 L735.93 137.52 L736.67 137.46 L737.40 137.39 L738.13 137.33 L738.86 137.27 L739.59 137.20 L740.32 137.14 L741.06 137.07 L741.79 137.01 L742.52 136.94 L743.25 136.87 L743.98 136.80 L744.71 136.73 L745.44 136.66 L746.18 136.59 L746.91 136.52 L747.64 136.45 L748.37 136.38 L749.10 136.30 L749.83 136.23 L750.56 136.16 L751.30 136.08 L752.03 136.01 L752.76 135.93 L753.49 135.85 L754.22 135.78 L754.95 135.70 L755.69 135.62 L756.42 135.54 L757.15 135.46 L757.88 135.38 L758.61 135.30 L759.34 135.22 L760.07 135.13 L760.81 135.05 L761.54 134.97 L762.27 134.88 L763.00 134.80 L763.73 134.71 L764.46 134.63 L765.19 134.54 L765.93 134.45 L766.66 134.36 L767.39 134.28 L768.12 134.19 L768.85 134.10 L769.58 134.01 L770.32 133.92 L771.05 133.82 L771.78 133.73 L772.51 133.64 L773.24 133.55 L773.97 133.45 L774.70 133.36 L775.44 133.26 L776.17 133.17 L776.90 133.07 L777.63 132.97 L778.36 132.87 L779.09 132.78 L779.82 132.68 L780.56 132.58 L781.29 132.48 L782.02 132.38 L782.75 132.28 L783.48 132.18 L784.21 132.07 L784.95 131.97 L785.68 131.87 L786.41 131.76 L787.14 131.66 L787.87 131.55 L788.60 131.45 L789.33 131.34 L790.07 131.23 L790.80 131.13 L791.53 131.02 L792.26 130.91 L792.99 130.80 L793.72 130.69 L794.45 130.58 L795.19 130.47 L795.92 130.36 L796.65 130.25 L797.38 130.14 L798.11 130.02 L798.84 129.91 L799.58 129.80 L800.31 129.68 L801.04 129.57 L801.77 129.45 L802.50 129.33 L803.23 129.22 L803.96 129.10 L804.70 128.98 L805.43 128.87 L806.16 128.75 L806.89 128.63 L807.62 128.51 L808.35 128.39 L809.08 128.27 L809.82 128.14 L810.55 128.02 L811.28 127.90 L812.01 127.78 L812.74 127.65 L813.47 127.53 L814.21 127.41 L814.94 127.28 L815.67 127.16 L816.40 127.03" stroke="#00f" stroke-dasharray="10.7 2.5 2.5 2.5" stroke-dashoffset="3.64"/>
<path d="M523.80 150.62 L524.53 150.53 L525.26 150.45 L525.99 150.36 L526.73 150.28 L527.46 150.19 L528.19 150.10 L528.92 150.01 L529.65 149.92 L530.38 149.83 L531.12 149.75 L531.85 149.66 L532.58 149.56 L533.31 149.47 L534.04 149.38 L534.77 149.29 L535.50 149.20 L536.24 149.11 L536.97 149.01 L537.70 148.92 L538.43 148.83 L539.16 148.74 L539.89 148.64 L540.62 148.55 L541.36 148.45 L542.09 148.36 L542.82 148.26 L543.55 148.17 L544.28 148.08 L545.01 147.98 L545.75 147.88 L546.48 147.79 L547.21 147.69 L547.94 147.60 L548.67 147.50 L549.40 147.41 L550.13 147.31 L550.87 147.21 L551.60 147.12 L552.33 147.02 L553.06 146.93 L553.79 146.83 L554.52 146.73 L555.25 146.64 L555.99 146.54 L556.72 146.44 L557.45 146.35 L558.18 146.25 L558.91 146.16 L559.64 146.06 L560.38 145.96 L561.11 145.87 L561.84 145.77 L562.57 145.68 L563.30 145.58 L564.03 145.48 L564.76 145.39 L565.50 145.29 L566.23 145.20 L566.96 145.10 L567.69 145.01 L568.42 144.91 L569.15 144.82 L569.88 144.73 L570.62 144.63 L571.35 144.54 L572.08 144.45 L572.81 144.35 L573.54 144.26 L574.27 144.17 L575.00 144.07 L575.74 143.98 L576.47 143.89 L577.20 143.80 L577.93 143.71 L578.66 143.62 L579.39 143.53 L580.13 143.44 L580.86 143.35 L581.59 143.26 L582.32 143.17 L583.05 143.08 L583.78 142.99 L584.51 142.90 L585.25 142.82 L585.98 142.73 L586.71 142.64 L587.44 142.56 L588.17 142.47 L588.90 142.39 L589.63 142.30 L590.37 142.22 L591.10 142.13 L591.83 142.05 L592.56 141.97 L593.29 141.89 L594.02 141.80 L594.76 141.72 L595.49 141.64 L596.22 141.56 L596.95 141.48 L597.68 141.40 L598.41 141.32 L599.14 141.25 L599.88 141.17 L600.61 141.09 L601.34 141.02 L602.07 140.94 L602.80 140.87 L603.53 140.79 L604.26 140.72 L605.00 140.64 L605.73 140.57 L606.46 140.50 L607.19 140.43 L607.92 140.36 L608.65 140.29 L609.39 140.22 L610.12 140.15 L610.85 140.08 L611.58 140.01 L612.31 139.95 L613.04 139.88 L613.77 139.82 L614.51 139.75 L615.24 139.69 L615.97 139.62 L616.70 139.56 L617.43 139.50 L618.16 139.44 L618.89 139.38 L619.63 139.32 L620.36 139.26 L621.09 139.20 L621.82 139.14 L622.55 139.09 L623.28 139.03 L624.02 138.98 L624.75 138.92 L625.48 138.87 L626.21 138.82 L626.94 138.76 L627.67 138.71 L628.40 138.66 L629.14 138.61 L629.87 138.56 L630.60 138.52 L631.33 138.47 L632.06 138.42 L632.79 138.38 L633.52 138.33 L634.26 138.29 L634.99 138.25 L635.72 138.20 L636.45 138.16 L637.18 138.12 L637.91 138.08 L638.65 138.04 L639.38 138.00 L640.11 137.97 L640.84 137.93 L641.57 137.90 L642.30 137.86 L643.03 137.83 L643.77 137.79 L644.50 137.76 L645.23 137.73 L645.96 137.70 L646.69 137.67 L647.42 137.64 L648.15 137.62 L648.89 137.59 L649.62 137.56 L650.35 137.54 L651.08 137.51 L651.81 137.49 L652.54 137.47 L653.28 137.45 L654.01 137.43 L654.74 137.41 L655.47 137.39 L656.20 137.37 L656.93 137.35 L657.66 137.34 L658.40 137.32 L659.13 137.31 L659.86 137.30 L660.59 137.28 L661.32 137.27 L662.05 137.26 L662.78 137.25 L663.52 137.24 L664.25 137.23 L664.98 137.23 L665.71 137.22 L666.44 137.22 L667.17 137.21 L667.91 137.21 L668.64 137.21 L669.37 137.21 L670.10 137.21 L670.83 137.21 L671.56 137.21 L672.29 137.21 L673.03 137.21 L673.76 137.22 L674.49 137.22 L675.22 137.23 L675.95 137.23 L676.68 137.24 L677.41 137.25 L678.15 137.26 L678.88 137.27 L679.61 137.28 L680.34 137.30 L681.07 137.31 L681.80 137.32 L682.54 137.34 L683.27 137.35 L684.00 137.37 L684.73 137.39 L685.46 137.41 L686.19 137.43 L686.92 137.45 L687.66 137.47 L688.39 137.49 L689.12 137.51 L689.85 137.54 L690.58 137.56 L691.31 137.59 L692.04 137.62 L692.78 137.64 L693.51 137.67 L694.24 137.70 L694.97 137.73 L695.70 137.76 L696.43 137.79 L697.17 137.83 L697.90 137.86 L698.63 137.90 L699.36 137.93 L700.09 137.97 L700.82 138.00 L701.55 138.04 L702.29 138.08 L703.02 138.12 L703.75 138.16 L704.48 138.20 L705.21 138.25 L705.94 138.29 L706.67 138.33 L707.41 138.38 L708.14 138.42 L708.87 138.47 L709.60 138.52 L710.33 138.56 L711.06 138.61 L711.80 138.66 L712.53 138.71 L713.26 138.76 L713.99 138.82 L714.72 138.87 L715.45 138.92 L716.18 138.98 L716.92 139.03 L717.65 139.09 L718.38 139.14 L719.11 139.20 L719.84 139.26 L720.57 139.32 L721.30 139.38 L722.04 139.44 L722.77 139.50 L723.50 139.56 L724.23 139.62 L724.96 139.69 L725.69 139.75 L726.43 139.82 L727.16 139.88 L727.89 139.95 L728.62 140.01 L729.35 140.08 L730.08 140.15 L730.81 140.22 L731.55 140.29 L732.28 140.36 L733.01 140.43 L733.74 140.50 L734.47 140.57 L735.20 140.64 L735.93 140.72 L736.67 140.79 L737.40 140.87 L738.13 140.94 L738.86 141.02 L739.59 141.09 L740.32 141.17 L741.06 141.25 L741.79 141.32 L742.52 141.40 L743.25 141.48 L743.98 141.56 L744.71 141.64 L745.44 141.72 L746.18 141.80 L746.91 141.89 L747.64 141.97 L748.37 142.05 L749.10 142.13 L749.83 142.22 L750.56 142.30 L751.30 142.39 L752.03 142.47 L752.76 142.56 L753.49 142.64 L754.22 142.73 L754.95 142.82 L755.69 142.90 L756.42 142.99 L757.15 143.08 L757.88 143.17 L758.61 143.26 L759.34 143.35 L760.07 143.44 L760.81 143.53 L761.54 143.62 L762.27 143.71 L763.00 143.80 L763.73 143.89 L764.46 143.98 L765.19 144.07 L765.93 144.17 L766.66 144.26 L767.39 144.35 L768.12 144.45 L768.85 144.54 L769.58 144.63 L770.32 144.73 L771.05 144.82 L771.78 144.91 L772.51 145.01 L773.24 145.10 L773.97 145.20 L774.70 145.29 L775.44 145.39 L776.17 145.48 L776.90 145.58 L777.63 145.68 L778.36 145.77 L779.09 145.87 L779.82 145.96 L780.56 146.06 L781.29 146.16 L782.02 146.25 L782.75 146.35 L783.48 146.44 L784.21 146.54 L784.95 146.64 L785.68 146.73 L786.41 146.83 L787.14 146.93 L787.87 147.02 L788.60 147.12 L789.33 147.21 L790.07 147.31 L790.80 147.41 L791.53 147.50 L792.26 147.60 L792.99 147.69 L793.72 147.79 L794.45 147.88 L795.19 147.98 L795.92 148.08 L796.65 148.17 L797.38 148.26 L798.11 148.36 L798.84 148.45 L799.58 148.55 L800.31 148.64 L801.04 148.74 L801.77 148.83 L802.50 148.92 L803.23 149.01 L803.96 149.11 L804.70 149.20 L805.43 149.29 L806.16 149.38 L806.89 149.47 L807.62 149.56 L808.35 149.66 L809.08 149.75 L809.82 149.83 L810.55 149.92 L811.28 150.01 L812.01 150.10 L812.74 150.19 L813.47 150.28 L814.21 150.36 L814.94 150.45 L815.67 150.53 L816.40 150.62" stroke="#0f0" stroke-dasharray="10.22 2.5 2.5 2.5 2.5 2.5" stroke-dashoffset="21.71"/>
</g>
<path d="M524.80 188.30 v-2.00 M524.80 8.60 v2.00 M539.33 188.30 v-2.00 M539.33 8.60 v2.00 M553.86 188.30 v-2.00 M553.86 8.60 v2.00 M568.39 188.30 v-2.00 M568.39 8.60 v2.00 M582.92 188.30 v-2.00 M582.92 8.60 v2.00 M597.45 188.30 v-2.00 M597.45 8.60 v2.00 M611.98 188.30 v-2.00 M611.98 8.60 v2.00 M626.51 188.30 v-2.00 M626.51 8.60 v2.00 M641.04 188.30 v-2.00 M641.04 8.60 v2.00 M655.57 188.30 v-2.00 M655.57 8.60 v2.00 M670.10 188.30 v-2.00 M670.10 8.60 v2.00 M684.63 188.30 v-2.00 M684.63 8.60 v2.00 M699.16 188.30 v-2.00 M699.16 8.60 v2.00 M713.69 188.30 v-2.00 M713.69 8.60 v2.00 M728.22 188.30 v-2.00 M728.22 8.60 v2.00 M742.75 188.30 v-2.00 M742.75 8.60 v2.00 M757.28 188.30 v-2.00 M757.28 8.60 v2.00 M771.81 188.30 v-2.00 M771.81 8.60 v2.00 M786.34 188.30 v-2.00 M786.34 8.60 v2.00 M800.87 188.30 v-2.00 M800.87 8.60 v2.00 M815.40 188.30 v-2.00 M815.40 8.60 v2.00 M524.80 188.30 v-3.20 M524.80 8.60 v3.20 M597.45 188.30 v-3.20 M597.45 8.60 v3.20 M670.10 188.30 v-3.20 M670.10 8.60 v3.20 M742.75 188.30 v-3.20 M742.75 8.60 v3.20 M815.40 188.30 v-3.20 M815.40 8.60 v3.20 M524.80 188.30 h2.00 M815.40 188.30 h-2.00 M524.80 182.31 h2.00 M815.40 182.31 h-2.00 M524.80 176.32 h2.00 M815.40 176.32 h-2.00 M524.80 170.33 h2.00 M815.40 170.33 h-2.00 M524.80 164.34 h2.00 M815.40 164.34 h-2.00 M524.80 158.35 h2.00 M815.40 158.35 h-2.00 M524.80 152.36 h2.00 M815.40 152.36 h-2.00 M524.80 146.37 h2.00 M815.40 146.37 h-2.00 M524.80 140.38 h2.00 M815.40 140.38 h-2.00 M524.80 134.39 h2.00 M815.40 134.39 h-2.00 M524.80 128.40 h2.00 M815.40 128.40 h-2.00 M524.80 122.41 h2.00 M815.40 122.41 h-2.00 M524.80 116.42 h2.00 M815.40 116.42 h-2.00 M524.80 110.43 h2.00 M815.40 110.43 h-2.00 M524.80 104.44 h2.00 M815.40 104.44 h-2.00 M524.80 98.45 h2.00 M815.40 98.45 h-2.00 M524.80 92.46 h2.00 M815.40 92.46 h-2.00 M524.80 86.47 h2.00 M815.40 86.47 h-2.00 M524.80 80.48 h2.00 M815.40 80.48 h-2.00 M524.80 74.49 h2.00 M815.40 74.49 h-2.00 M524.80 68.50 h2.00 M815.40 68.50 h-2.00 M524.80 62.51 h2.00 M815.40 62.51 h-2.00 M524.80 56.52 h2.00 M815.40 56.52 h-2.00 M524.80 50.53 h2.00 M815.40 50.53 h-2.00 M524.80 44.54 h2.00 M815.40 44.54 h-2.00 M524.80 38.55 h2.00 M815.40 38.55 h-2.00 M524.80 32.56 h2.00 M815.40 32.56 h-2.00 M524.80 26.57 h2.00 M815.40 26.57 h-2.00 M524.80 20.58 h2.00 M815.40 20.58 h-2.00 M524.80 14.59 h2.00 M815.40 14.59 h-2.00 M524.80 8.60 h2.00 M815.40 8.60 h-2.00 M524.80 188.30 h3.20 M815.40 188.30 h-3.20 M524.80 158.35 h3.20 M815.40 158.35 h-3.20 M524.80 128.40 h3.20 M815.40 128.40 h-3.20 M524.80 98.45 h3.20 M815.40 98.45 h-3.20 M524.80 68.50 h3.20 M815.40 68.50 h-3.20 M524.80 38.55 h3.20 M815.40 38.55 h-3.20 M524.80 8.60 h3.20 M815.40 8.60 h-3.20" stroke="#000" stroke-width="1.2" fill="none"/>
<rect x="524.80" y="8.60" width="290.60" height="179.70" fill="none" stroke="#000" stroke-width="1.5"/>
<text class="t" transform="translate(525.20 213.45) scale(1 1.015)" text-anchor="middle"><tspan font-size="25.96" dy="1.1" letter-spacing="2.7">−</tspan><tspan dy="-1.1">1.0</tspan></text>
<text class="t" transform="translate(597.85 213.45) scale(1 1.015)" text-anchor="middle"><tspan font-size="25.96" dy="1.1" letter-spacing="2.7">−</tspan><tspan dy="-1.1">0.5</tspan></text>
<text class="t" transform="translate(670.50 213.45) scale(1 1.015)" text-anchor="middle">0.0</text>
<text class="t" transform="translate(743.15 213.45) scale(1 1.015)" text-anchor="middle">0.5</text>
<text class="t" transform="translate(815.80 213.45) scale(1 1.015)" text-anchor="middle">1.0</text>
<text class="t" transform="translate(522.10 196.40) scale(1 1.015)" text-anchor="end">0.0</text>
<text class="t" transform="translate(522.10 166.45) scale(1 1.015)" text-anchor="end">0.5</text>
<text class="t" transform="translate(522.10 136.50) scale(1 1.015)" text-anchor="end">1.0</text>
<text class="t" transform="translate(522.10 106.55) scale(1 1.015)" text-anchor="end">1.5</text>
<text class="t" transform="translate(522.10 76.60) scale(1 1.015)" text-anchor="end">2.0</text>
<text class="t" transform="translate(522.10 46.65) scale(1 1.015)" text-anchor="end">2.5</text>
<text class="t" transform="translate(522.10 16.70) scale(1 1.015)" text-anchor="end">3.0</text>
<text class="a" transform="translate(670.30 249.8) scale(1 1.020)" text-anchor="middle">cos <tspan font-style="italic" dy="2.1">θ</tspan></text>
<text class="a" transform="translate(481.30 97.85) rotate(-90) scale(1 1.020)" text-anchor="middle">dΓ/d cos <tspan font-style="italic">θ</tspan> [keV]</text>
</svg></body></html>
